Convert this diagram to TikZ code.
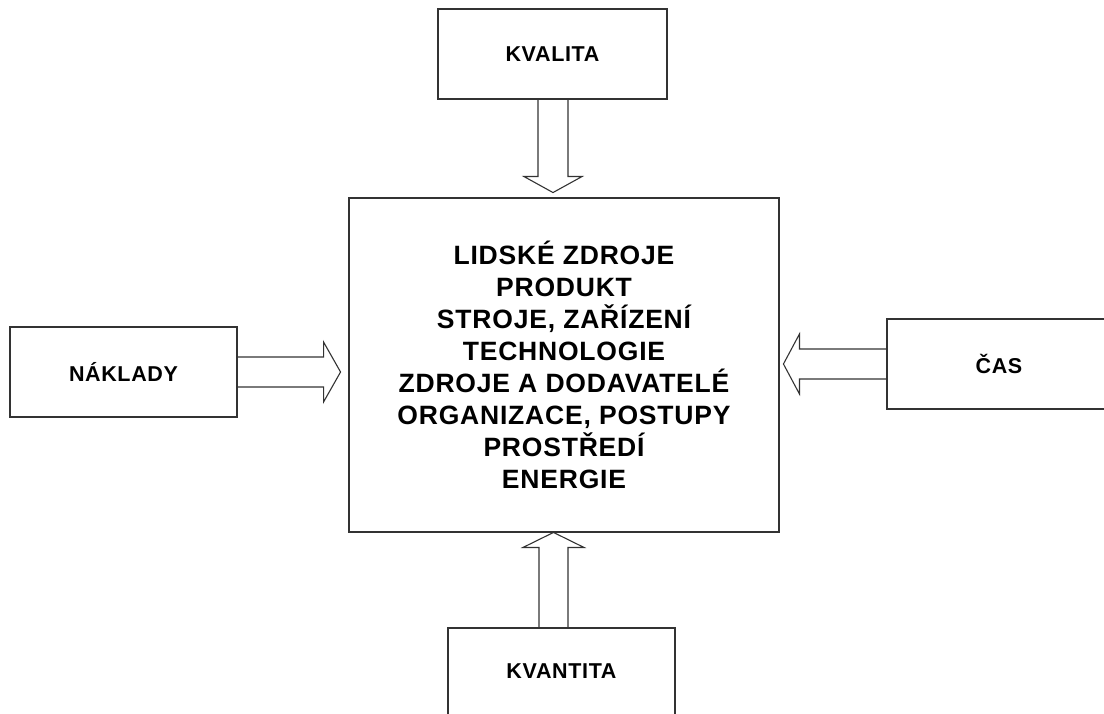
\documentclass[tikz,border=0pt]{standalone}
\usepackage{fontspec}
\setmainfont{Liberation Sans}
\newfontfamily\widesans[LetterSpace=3]{Liberation Sans}
\usetikzlibrary{calc}
\begin{document}
\begin{tikzpicture}[x=1pt,y=-1pt,
  frame/.style={draw=black!80, line width=1.1pt, rectangle, inner sep=0pt},
  sidebox/.style={frame, minimum width=228, minimum height=90,
    font=\widesans\fontsize{21.5}{25}\selectfont\bfseries},
  corebox/.style={frame, minimum width=430, minimum height=334, align=center,
    font=\widesans\fontsize{26.5}{31.9}\selectfont\bfseries},
  blockarrow/.style={draw=black!80, line width=1.1pt, line join=miter}]
  % page
  \fill[white] (0,0) rectangle (1104,714);
  \useasboundingbox (0,0) rectangle (1104,714);

  % central box with the managed resources
  \node[corebox] (core) at (564,365) {LIDSKÉ ZDROJE\\PRODUKT\\STROJE, ZAŘÍZENÍ\\TECHNOLOGIE\\ZDROJE A DODAVATELÉ\\ORGANIZACE, POSTUPY\\PROSTŘEDÍ\\ENERGIE};

  % surrounding factors
  \node[sidebox, minimum width=229] (kval) at (552.5,54) {KVALITA};
  \node[sidebox, minimum width=227] (nakl) at (123.5,372) {NÁKLADY};
  \node[sidebox, minimum width=224] (cas)  at (999,364) {ČAS};
  \node[sidebox, minimum width=227, minimum height=87] (kvant) at (561.5,671.5) {KVANTITA};

  % hollow block arrows pointing at the central box
  \draw[blockarrow] (kval.south) ++(-14.5,0) -- ++(0,77) -- ++(-14,0)
    -- ++(29,16) -- ++(29,-16) -- ++(-14,0) -- ++(0,-77);
  \draw[blockarrow] (nakl.east) ++(0,-15) -- ++(86,0) -- ++(0,-15)
    -- ++(17,30) -- ++(-17,30) -- ++(0,-15) -- ++(-86,0);
  \draw[blockarrow] (cas.west) ++(0,-15) -- ++(-87,0) -- ++(0,-15)
    -- ++(-16,30) -- ++(16,30) -- ++(0,-15) -- ++(87,0);
  \draw[blockarrow] (kvant.north) ++(-22.5,0) -- ++(0,-80) -- ++(-16,0)
    -- ++(30.5,-15) -- ++(30.5,15) -- ++(-16,0) -- ++(0,80);
\end{tikzpicture}
\end{document}
